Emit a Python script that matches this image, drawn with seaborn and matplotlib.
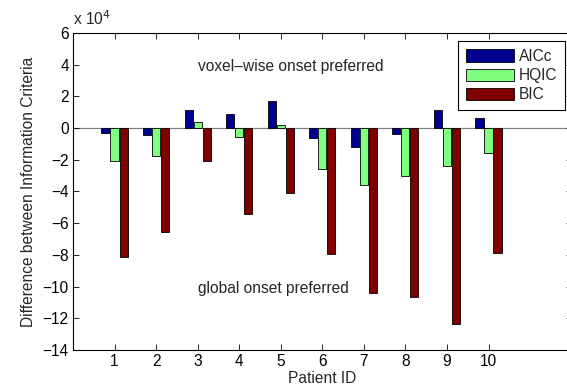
import matplotlib
matplotlib.use("Agg")
import matplotlib.pyplot as plt
import seaborn as sns
import pandas as pd
import numpy as np
from matplotlib.patches import Patch

# Values in units of 10^4
patients = [1, 2, 3, 4, 5, 6, 7, 8, 9, 10]
aicc = [-0.30, -0.42, 1.14, 0.88, 1.70, -0.65, -1.22, -0.40, 1.14, 0.61]
hqic = [-2.06, -1.77, 0.38, -0.53, 0.17, -2.57, -3.60, -3.03, -2.36, -1.60]
bic = [-8.15, -6.54, -2.06, -5.40, -4.12, -7.97, -10.40, -10.64, -12.37, -7.87]
criteria = ["AICc", "HQIC", "BIC"]
colors = ["#00008F", "#80FF80", "#800000"]
yticks = [6, 4, 2, 0, -2, -4, -6, -8, -10, -12, -14]

df = pd.DataFrame({
    "Patient": patients * 3,
    "Criterion": ["AICc"] * 10 + ["HQIC"] * 10 + ["BIC"] * 10,
    "Value": aicc + hqic + bic,
})

sns.set_theme(style="white")
plt.rcParams["font.family"] = ["Liberation Sans", "DejaVu Sans"]
FS = 11.2

fig = plt.figure(figsize=(5.67, 3.89), dpi=100)
W, H = 567, 389
x0, x1 = 73, 571.6
y0, y1 = 33, 350
ax = fig.add_axes([x0 / W, 1 - y1 / H, (x1 - x0) / W, (y1 - y0) / H])

ax.axhline(0, color="#808080", lw=0.9, zorder=0)
sns.barplot(data=df, x="Patient", y="Value", hue="Criterion", hue_order=criteria,
            palette=colors, native_scale=True, width=0.65, gap=0.1,
            edgecolor="black", linewidth=0.6, errorbar=None, ax=ax, legend=False,
            saturation=1, zorder=2)

ax.set_xlim(0, 12)
ax.set_ylim(-14, 6)
ax.set_xticks(patients)
ax.set_xticklabels([str(p) for p in patients], fontsize=FS)
ax.set_yticks(yticks)
ax.set_yticklabels([("\u2212" + str(-t)) if t < 0 else str(t) for t in yticks], fontsize=FS)
ax.tick_params(direction="in", length=4, width=0.6, top=True, right=True,
               bottom=True, left=True, colors="black", pad=3)
for s in ax.spines.values():
    s.set_color("black")
    s.set_linewidth(0.8)

ax.set_xlabel("Patient ID", fontsize=FS, labelpad=1)
ax.set_ylabel("Difference between Information Criteria", fontsize=FS, labelpad=5)

ax.text(3.0, 3.9, "voxel\u2013wise onset preferred", fontsize=FS, ha="left", va="center")
ax.text(3.0, -10.1, "global onset preferred", fontsize=FS, ha="left", va="center")
fig.text(73 / W, 1 - 19 / H, r"x 10$^4$", fontsize=FS, ha="left", va="center")

handles = [Patch(facecolor=c, edgecolor="black", linewidth=0.6) for c in colors]
leg = fig.legend(handles, criteria, loc="upper right",
                 bbox_to_anchor=(565 / W, 1 - 41 / H),
                 fontsize=FS, frameon=True, fancybox=False, framealpha=1,
                 edgecolor="black", handlelength=3.1, handleheight=0.85,
                 handletextpad=0.3, labelspacing=0.28, borderpad=0.5,
                 borderaxespad=0)
leg.get_frame().set_linewidth(0.8)

fig.savefig("out.png", dpi=100)
